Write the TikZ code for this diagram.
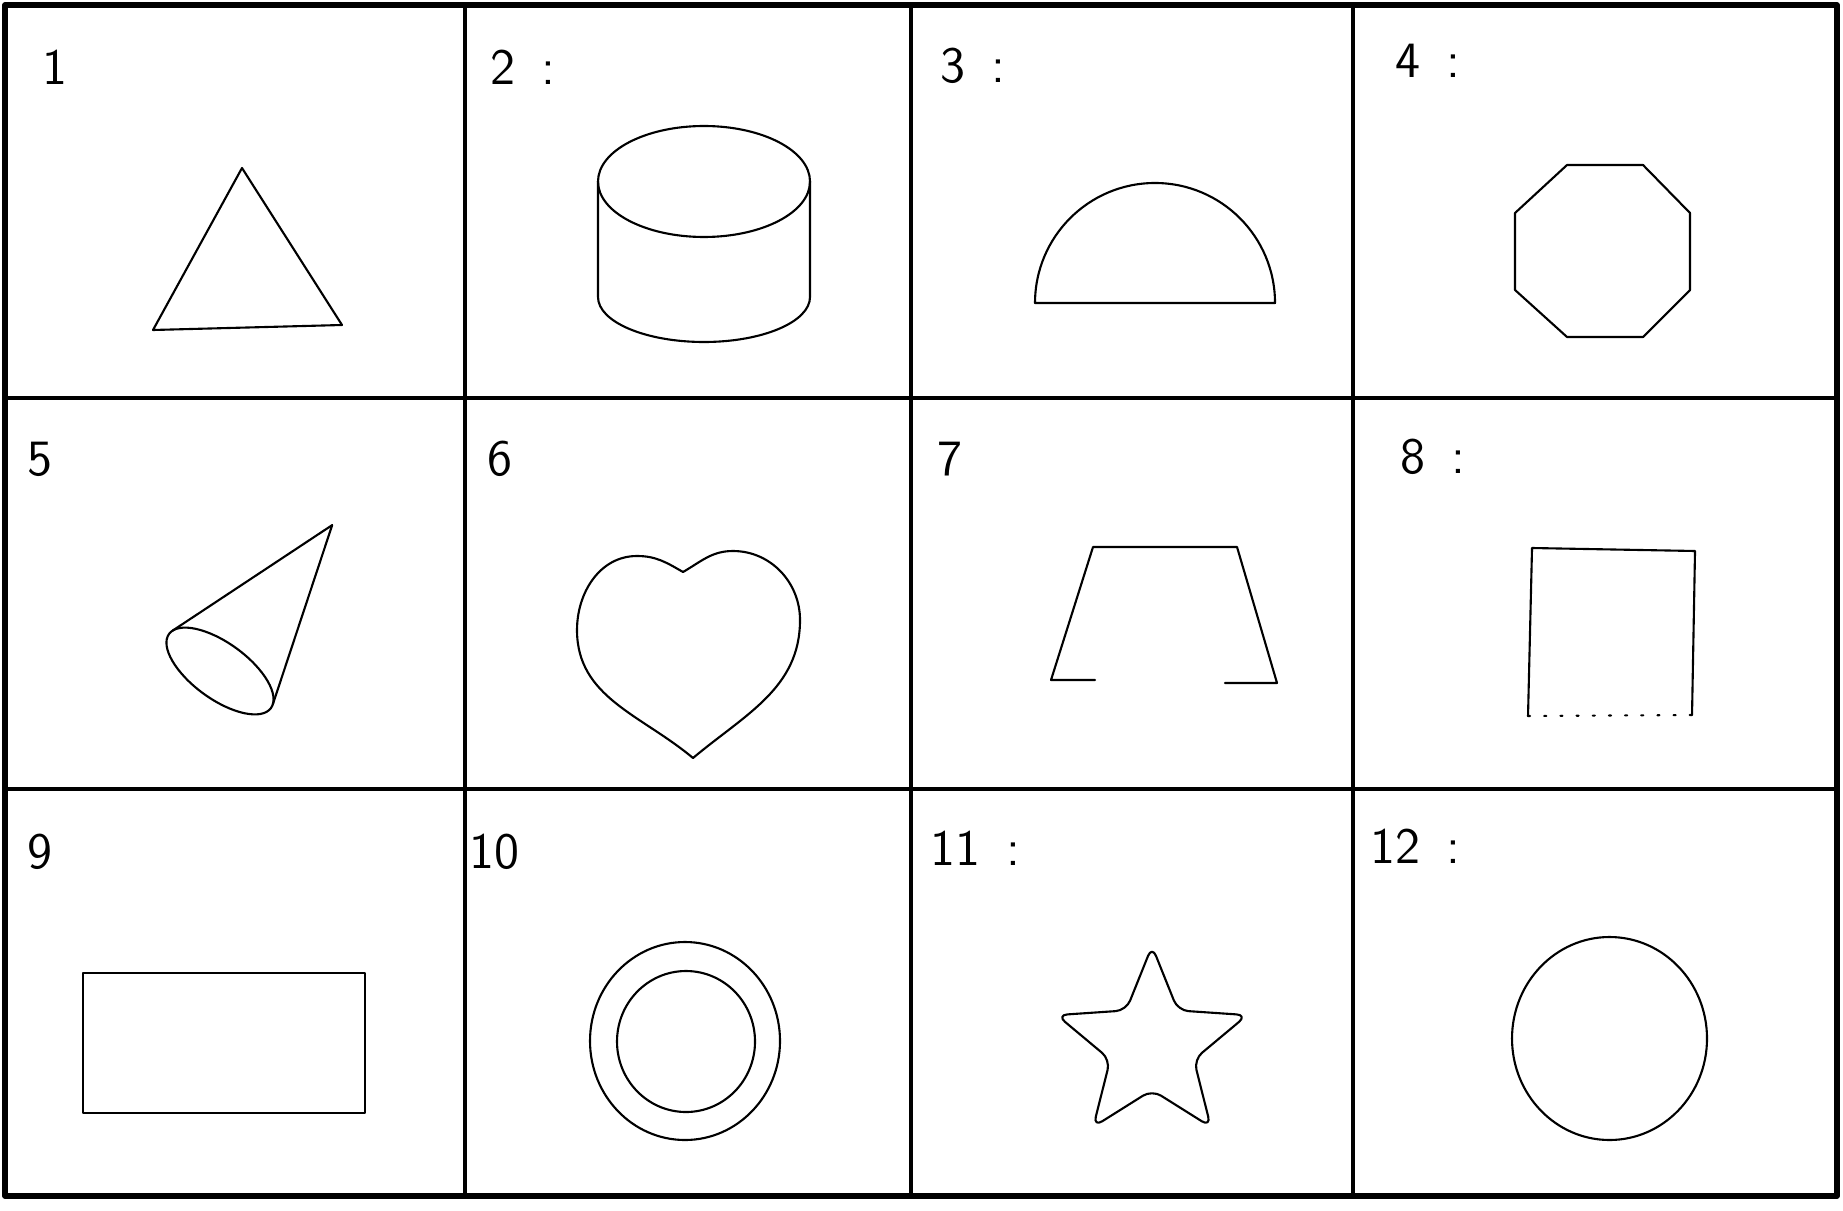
\documentclass[tikz,border=0pt]{standalone}
\usepackage{tikz}

\begin{document}
\begin{tikzpicture}[
  line cap=round, line join=round,
  cellrule/.style={line width=1.4pt},
  shapeline/.style={line width=0.6pt},
  numlab/.style={font=\sffamily\fontsize{14.5}{16}\selectfont, anchor=base west,
                 inner sep=0pt}]

\useasboundingbox (0,0) rectangle (18.43,-12.10);

% ================================================================ grid
\draw[cellrule, line width=1.6pt] (0.05,-0.05) rectangle (18.37,-11.96);
\foreach \x in {4.65,9.11,13.53}
  \draw[cellrule] (\x,-0.05) -- (\x,-11.96);
\foreach \y in {-3.98,-7.89}
  \draw[cellrule] (0.05,\y) -- (18.37,\y);

% ---- numbers ----------------------------------------------------------
\node[numlab] (l1)  at (0.42,-0.85)  {1};
\node[numlab] (l2)  at (4.90,-0.85)  {2\enspace:};
\node[numlab] (l3)  at (9.40,-0.83)  {3\enspace:};
\node[numlab] (l4)  at (13.95,-0.78) {4\enspace:};
\node[numlab] (l5)  at (0.27,-4.75)  {5};
\node[numlab] (l6)  at (4.87,-4.75)  {6};
\node[numlab] (l7)  at (9.37,-4.75)  {7};
\node[numlab] (l8)  at (14.00,-4.73) {8\enspace:};
\node[numlab] (l9)  at (0.27,-8.68)  {9};
\node[numlab] (l10) at (4.69,-8.68)  {10};
\node[numlab] (l11) at (9.30,-8.65)  {11\enspace:};
\node[numlab] (l12) at (13.70,-8.63) {12\enspace:};

% ================================================================ row 1
% ---- (1) triangle -----------------------------------------------------
\draw[shapeline] (2.42,-1.68) -- (3.42,-3.25) -- (1.53,-3.30) -- cycle;

% ---- (2) cylinder -----------------------------------------------------
\draw[shapeline] (7.04,-1.815) ellipse (1.06 and 0.555);
\draw[shapeline] (5.98,-1.815) -- (5.98,-2.97)
  arc[start angle=180, end angle=360, x radius=1.06, y radius=0.45] -- (8.10,-1.815);

% ---- (3) half disc ----------------------------------------------------
\draw[shapeline] (10.35,-3.03) -- (12.75,-3.03) arc[start angle=0, end angle=180, radius=1.2] -- cycle;

% ---- (4) octagon ------------------------------------------------------
\draw[shapeline] (15.67,-1.65) -- (16.43,-1.65) -- (16.90,-2.13) -- (16.90,-2.90)
  -- (16.43,-3.37) -- (15.67,-3.37) -- (15.15,-2.90) -- (15.15,-2.13) -- cycle;

% ================================================================ row 2
% ---- (5) cone ---------------------------------------------------------
\begin{scope}[shift={(2.20,-6.71)}, rotate=-36]
  \draw[shapeline] (0,0) ellipse (0.63 and 0.28);
  \draw[shapeline] (170.6:0.63 and 0.28) -- (0.05,1.84) -- (8.1:0.63 and 0.28);
\end{scope}

% ---- (6) heart --------------------------------------------------------
\draw[shapeline] (6.83,-5.72) to[out=150,in=0] (6.37,-5.56) to[out=180,in=90] (5.77,-6.30)
  to[out=-90,in=140] (6.93,-7.58) to[out=40,in=-90] (8.00,-6.20)
  to[out=90,in=0] (7.33,-5.51) to[out=180,in=30] cycle;

% ---- (7) trapezoid, base left open ------------------------------------
\draw[shapeline] (10.95,-6.80) -- (10.51,-6.80) -- (10.93,-5.47) -- (12.37,-5.47)
  -- (12.77,-6.83) -- (12.25,-6.83);

% ---- (8) square -------------------------------------------------------
\draw[shapeline] (15.28,-7.16) -- (15.32,-5.48) -- (16.95,-5.51) -- (16.92,-7.15);
\draw[shapeline, loosely dotted] (15.28,-7.16) -- (16.92,-7.15);

% ================================================================ row 3
% ---- (9) rectangle ----------------------------------------------------
\draw[shapeline] (0.83,-9.73) rectangle (3.65,-11.13);

% ---- (10) ring --------------------------------------------------------
\draw[shapeline] (6.85,-10.41) ellipse (0.95 and 0.99);
\draw[shapeline] (6.86,-10.415) ellipse (0.69 and 0.705);

% ---- (11) star --------------------------------------------------------
\draw[shapeline, rounded corners=3pt, shift={(11.52,-10.46)}] (90:1.0)
  \foreach \a/\r in {126/0.44,162/1.0,198/0.44,234/1.0,270/0.44,306/1.0,342/0.44,18/1.0,54/0.44}
    { -- (\a:\r) } -- cycle;

% ---- (12) circle ------------------------------------------------------
\draw[shapeline] (16.095,-10.385) ellipse (0.975 and 1.015);

\end{tikzpicture}
\end{document}
